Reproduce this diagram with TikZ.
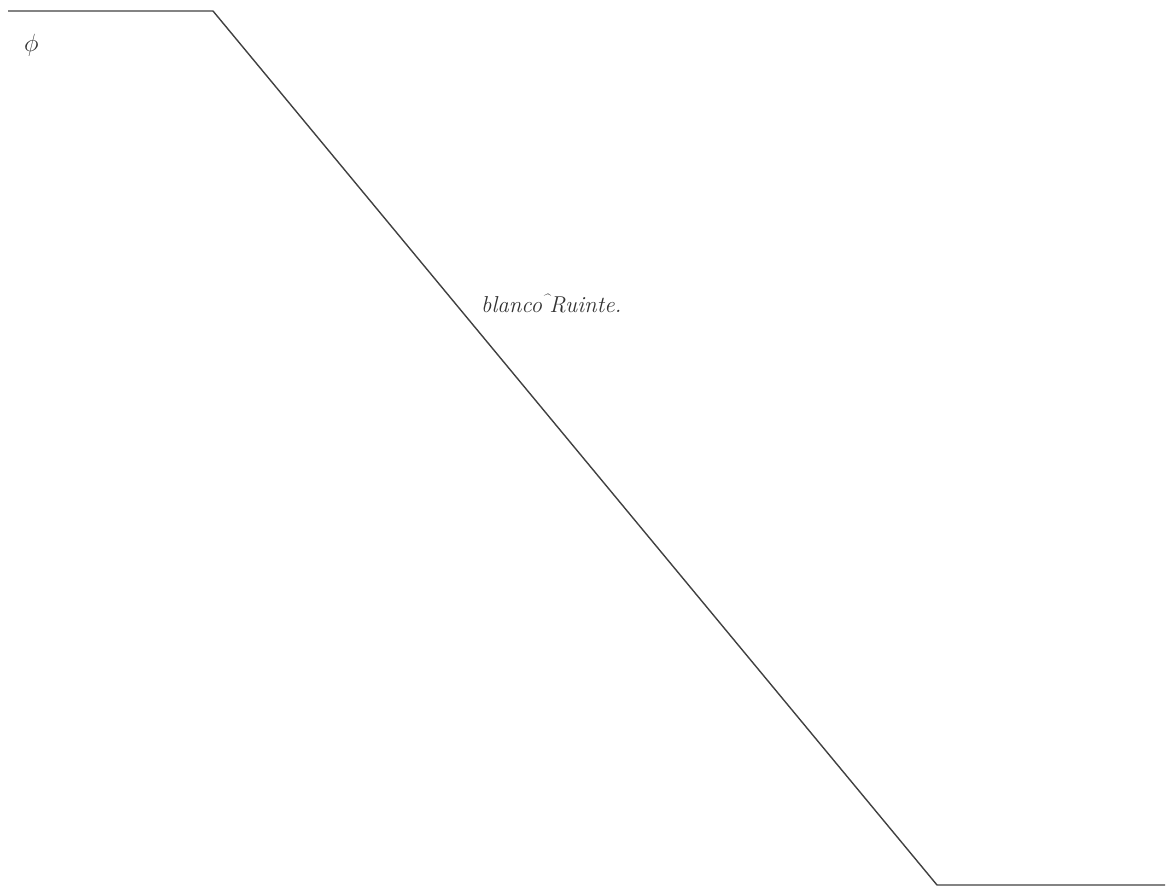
\documentclass[tikz,border=0pt]{standalone}
\usepackage{fontspec}
\tikzset{
  profile/.style={draw=black!75, line width=1.4pt, line join=round},
  hand/.style={font=\fontsize{23}{25}\selectfont\itshape, text=black!80, inner sep=0pt}
}
\begin{document}
\begin{tikzpicture}[x=1pt,y=-1pt]
\useasboundingbox (0,0) rectangle (1173,888);
\coordinate (a) at (8,11);
\coordinate (b) at (213,11);
\coordinate (c) at (937,885);
\coordinate (d) at (1165,885);
\draw[profile] (a) -- (b) -- (c) -- (d);
\node[hand, anchor=base west] (phi) at (24,52) {\fontsize{28}{30}\selectfont$\phi$};
\node[hand, anchor=base west] (lbl) at (481,312) {blanco\raisebox{0.9ex}{\fontsize{13}{13}\selectfont\textasciicircum}Ruinte.};
\end{tikzpicture}
\end{document}
